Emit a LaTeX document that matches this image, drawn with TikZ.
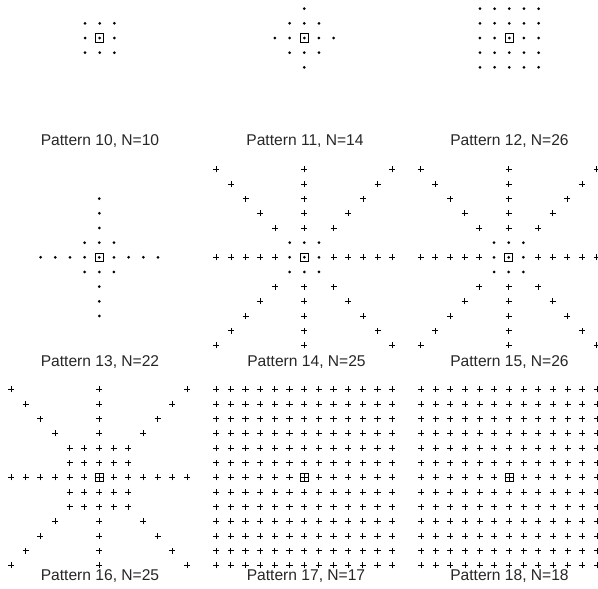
\documentclass[tikz,border=0pt]{standalone}
\usepackage{fontspec}
\setmainfont{Liberation Sans}
\begin{document}
\begin{tikzpicture}[x=1pt,y=-1pt,
  dotm/.pic={\fill (0,0) circle (1.5pt);},
  plusm/.pic={\draw[line width=0.9pt] (-3.1pt,0)--(3.1pt,0) (0,-3.1pt)--(0,3.1pt);},
  ctrdot/.pic={\fill (0,0) circle (1.5pt); \draw[line width=1pt] (-4.2pt,-4.2pt) rectangle (4.2pt,4.2pt);},
  ctrplus/.pic={\draw[line width=0.8pt] (-4pt,-4pt) rectangle (4pt,4pt) (-4pt,0)--(4pt,0) (0,-4pt)--(0,4pt);},
  lab/.style={font=\fontsize{15.6}{18}\selectfont, text=black!85, inner sep=0pt, anchor=base},
  pat/.style={x=14.67pt,y=-14.67pt}]
\useasboundingbox (0,0) rectangle (598,589);
\clip (0,0) rectangle (598,589);

% ---------- Row 1 ----------
% Pattern 10
\begin{scope}[xshift=99.67pt,yshift=-38pt,pat]
  \foreach \i in {-1,0,1}{\foreach \j in {-1,0,1}{
    \ifnum\i=0 \ifnum\j=0 \else \pic at (\i,\j) {dotm}; \fi \else \pic at (\i,\j) {dotm}; \fi}}
  \pic at (0,0) {ctrdot};
\end{scope}
% Pattern 11
\begin{scope}[xshift=304.3pt,yshift=-38pt,pat]
  \foreach \i in {-1,0,1}{\foreach \j in {-1,0,1}{
    \ifnum\i=0 \ifnum\j=0 \else \pic at (\i,\j) {dotm}; \fi \else \pic at (\i,\j) {dotm}; \fi}}
  \foreach \p in {(2,0),(-2,0),(0,2),(0,-2)} {\pic at \p {dotm};}
  \pic at (0,0) {ctrdot};
\end{scope}
% Pattern 12
\begin{scope}[xshift=509.3pt,yshift=-38pt,pat]
  \foreach \i in {-2,...,2}{\foreach \j in {-2,...,2}{
    \ifnum\i=0 \ifnum\j=0 \else \pic at (\i,\j) {dotm}; \fi \else \pic at (\i,\j) {dotm}; \fi}}
  \pic at (0,0) {ctrdot};
\end{scope}

% ---------- Row 2 ----------
% Pattern 13
\begin{scope}[xshift=99.3pt,yshift=-257.3pt,pat]
  \foreach \i in {-1,0,1}{\foreach \j in {-1,0,1}{
    \ifnum\i=0 \ifnum\j=0 \else \pic at (\i,\j) {dotm}; \fi \else \pic at (\i,\j) {dotm}; \fi}}
  \foreach \k in {2,3,4}{
    \pic at (\k,0) {dotm}; \pic at (-\k,0) {dotm};
    \pic at (0,\k) {dotm}; \pic at (0,-\k) {dotm};}
  \pic at (0,0) {ctrdot};
\end{scope}
% Pattern 14 and 15
\foreach \cx in {304.3,508.7}{
\begin{scope}[xshift=\cx pt,yshift=-257.3pt,pat]
  \foreach \i in {-1,0,1}{\foreach \j in {-1,0,1}{
    \ifnum\i=0 \ifnum\j=0 \else \pic at (\i,\j) {dotm}; \fi \else \pic at (\i,\j) {dotm}; \fi}}
  \foreach \k in {2,...,6}{
    \pic at (\k,0) {plusm}; \pic at (-\k,0) {plusm};
    \pic at (0,\k) {plusm}; \pic at (0,-\k) {plusm};
    \pic at (\k,\k) {plusm}; \pic at (-\k,\k) {plusm};
    \pic at (\k,-\k) {plusm}; \pic at (-\k,-\k) {plusm};}
  \pic at (0,0) {ctrdot};
\end{scope}}

% ---------- Row 3 ----------
% Pattern 16
\begin{scope}[xshift=99pt,yshift=-477.3pt,pat]
  \foreach \i in {-2,...,2}{\foreach \j in {-2,...,2}{
    \ifnum\i=0 \ifnum\j=0 \else \pic at (\i,\j) {plusm}; \fi \else \pic at (\i,\j) {plusm}; \fi}}
  \foreach \k in {3,...,6}{
    \pic at (\k,0) {plusm}; \pic at (-\k,0) {plusm};
    \pic at (0,\k) {plusm}; \pic at (0,-\k) {plusm};
    \pic at (\k,\k) {plusm}; \pic at (-\k,\k) {plusm};
    \pic at (\k,-\k) {plusm}; \pic at (-\k,-\k) {plusm};}
  \pic at (0,0) {ctrplus};
\end{scope}
% Pattern 17 and 18
\foreach \cx in {304.2,509}{
\begin{scope}[xshift=\cx pt,yshift=-477.3pt,pat]
  \foreach \i in {-6,...,6}{\foreach \j in {-6,...,6}{
    \ifnum\i=0 \ifnum\j=0 \else \pic at (\i,\j) {plusm}; \fi \else \pic at (\i,\j) {plusm}; \fi}}
  \pic at (0,0) {ctrplus};
\end{scope}}

% ---------- Labels ----------
\node[lab] (l10) at (100,145.2) {Pattern 10, N=10};
\node[lab] (l11) at (305,145.2) {Pattern 11, N=14};
\node[lab] (l12) at (509.5,145.2) {Pattern 12, N=26};
\node[lab] (l13) at (100,366.6) {Pattern 13, N=22};
\node[lab] (l14) at (306.5,366.6) {Pattern 14, N=25};
\node[lab] (l15) at (509.5,366.6) {Pattern 15, N=26};
\node[lab] (l16) at (100,580.8) {Pattern 16, N=25};
\node[lab] (l17) at (306,580.8) {Pattern 17, N=17};
\node[lab] (l18) at (509.5,580.8) {Pattern 18, N=18};
\end{tikzpicture}
\end{document}
